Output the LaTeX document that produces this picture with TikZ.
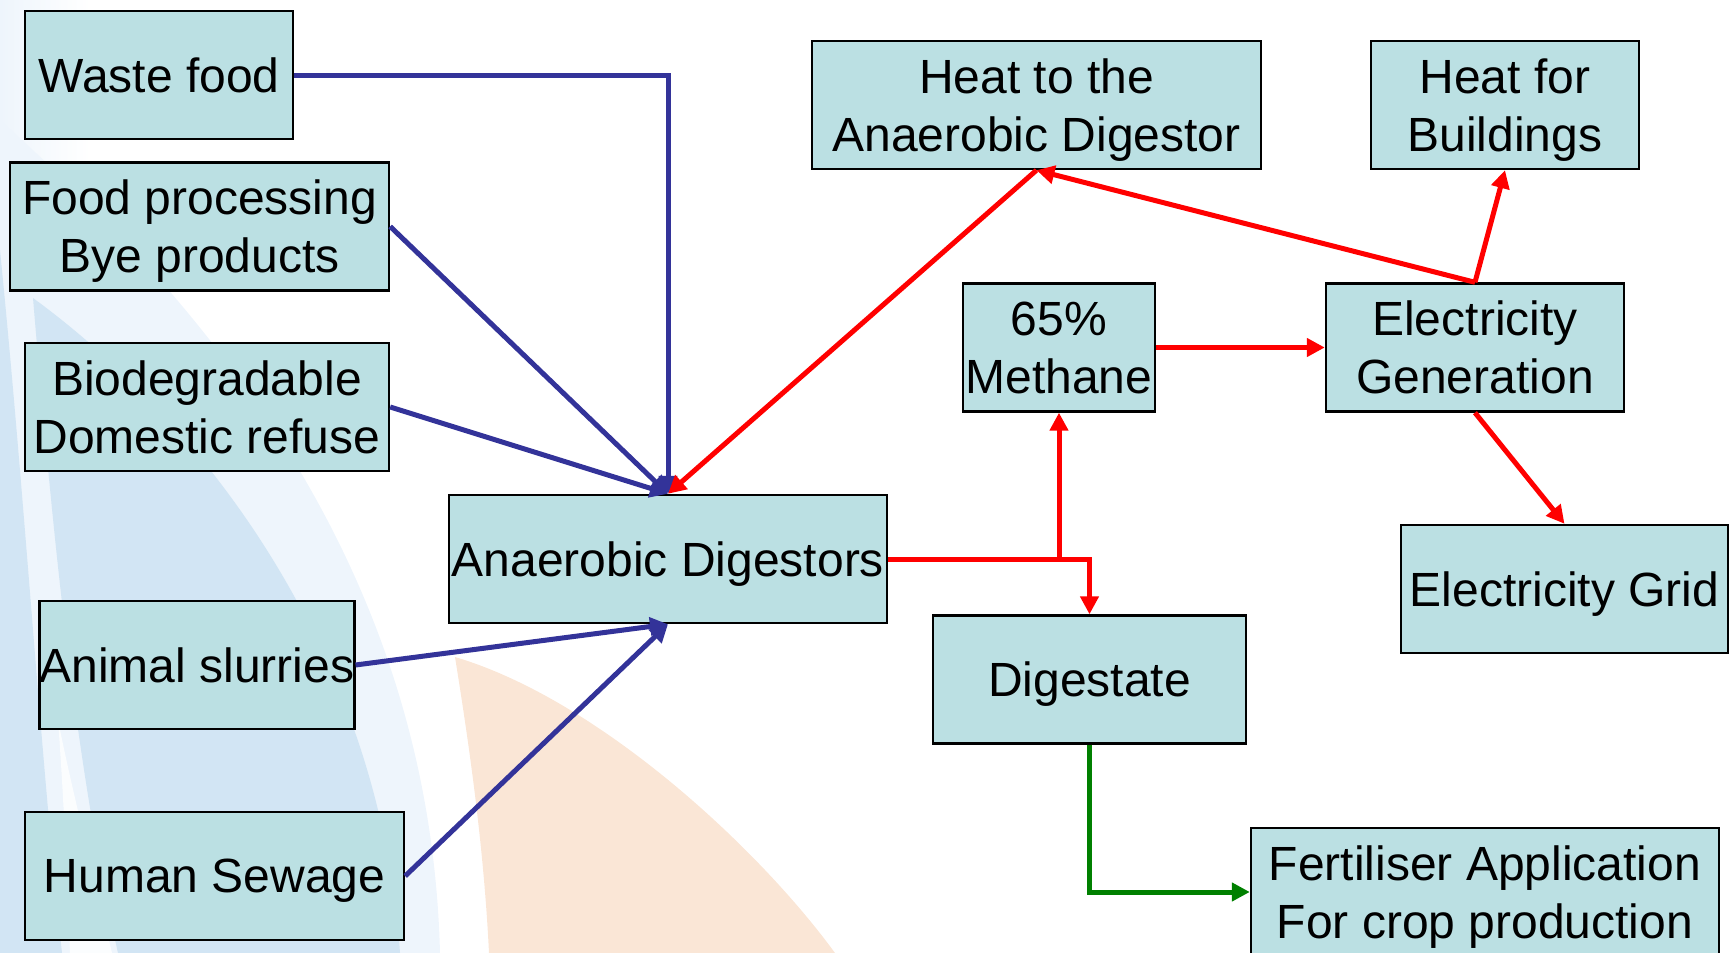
\documentclass[tikz,border=0pt]{standalone}
\usepackage{fontspec}
\setmainfont{Liberation Sans}
\usetikzlibrary{arrows.meta}
\definecolor{boxfill}{RGB}{187,224,227}
\definecolor{feedblue}{RGB}{51,51,153}
\definecolor{gasred}{RGB}{255,0,0}
\definecolor{soilgreen}{RGB}{0,128,0}
\definecolor{bgblue}{RGB}{238,245,252}
\definecolor{bgblueb}{RGB}{210,229,244}
\definecolor{bgorange}{RGB}{250,230,214}
\tikzset{box/.style={%
  draw=black,
  line width=0.6pt,
  fill=boxfill,
  inner sep=0pt,
  minimum height=32pt,
  align=center,
  text depth=0pt,
  font=\fontsize{12}{14.5}\selectfont,
  }
}
\tikzset{flow/.style={%
  ->,
  line width=1.25pt,
  >={Triangle[length=4.5pt,width=4.5pt]},
  }
}

\begin{document}
\begin{tikzpicture}[x=0.25pt,y=-0.25pt]
  \useasboundingbox (0,0) rectangle (1729,953);

  % background swooshes
  \shade [left color=bgblue, right color=white] (0,0) rectangle (90,320);
  \fill [bgblue] (0,120) .. controls (200,300) and (430,560) .. (440,953) -- (0,953) -- cycle;
  \fill [bgblueb] (0,250) .. controls (25,500) and (40,750) .. (62,953) -- (0,953) -- cycle;
  \fill [bgblueb] (33,298) .. controls (50,500) and (72,750) .. (118,953) -- (400,953) .. controls (380,650) and (200,420) .. (33,298) -- cycle;
  \fill [white, opacity=.8] (58,720) .. controls (64,800) and (67,880) .. (70,953) -- (112,953) .. controls (90,860) and (72,790) .. (58,720) -- cycle;
  \fill [bgorange] (455,657) .. controls (470,750) and (484,850) .. (489,953) -- (835,953) .. controls (760,850) and (600,700) .. (455,657) -- cycle;

  \node (waste) [box, minimum width=67pt] at (159,75) {Waste food};
  \node (food) [box, minimum width=94.75pt] at (199.5,226.5) {Food processing\\Bye products};
  \node (refuse) [box, minimum width=91pt] at (207,407) {Biodegradable\\Domestic refuse};
  \node (slurry) [box, minimum width=78.5pt] at (197,665) {Animal slurries};
  \node (sewage) [box, minimum width=94.75pt] at (214.5,876) {Human Sewage};

  \node (digestor) [box, minimum width=109.5pt] at (668,559) {Anaerobic Digestors};
  \node (heatad) [box, minimum width=112.25pt] at (1036.5,105) {Heat to the\\Anaerobic Digestor};
  \node (heatbld) [box, minimum width=67pt] at (1505,105) {Heat for\\Buildings};
  \node (methane) [box, minimum width=48pt] at (1059,347.5) {65\%\\Methane};
  \node (elecgen) [box, minimum width=74.5pt] at (1475,347.5) {Electricity\\Generation};
  \node (grid) [box, minimum width=81.75pt] at (1564.5,589) {Electricity Grid};
  \node (digestate) [box, minimum width=78.25pt] at (1089.5,679.5) {Digestate};
  \node (fert) [box, minimum width=117pt] at (1485,892) {Fertiliser Application\\For crop production};

  \draw [flow, feedblue] (waste.east) -| (digestor.north);
  \draw [flow, feedblue] (food.east) -- (digestor.north);
  \draw [flow, feedblue] (refuse.east) -- (digestor.north);
  \draw [flow, feedblue] (slurry.east) -- (digestor.south);
  \draw [flow, feedblue] (sewage.east) -- (digestor.south);

  \draw [flow, gasred] (heatad.south) -- (digestor.north);
  \draw [flow, gasred] (digestor.east) -| (methane.south);
  \draw [flow, gasred] (digestor.east) -| (digestate.north);
  \draw [flow, gasred] (methane.east) -- (elecgen.west);
  \draw [flow, gasred] (elecgen.north) -- (heatad.south);
  \draw [flow, gasred] (elecgen.north) -- (heatbld.south);
  \draw [flow, gasred] (elecgen.south) -- (grid.north);

  \draw [flow, soilgreen] (digestate.south) |- (fert.west);
\end{tikzpicture}
\end{document}
